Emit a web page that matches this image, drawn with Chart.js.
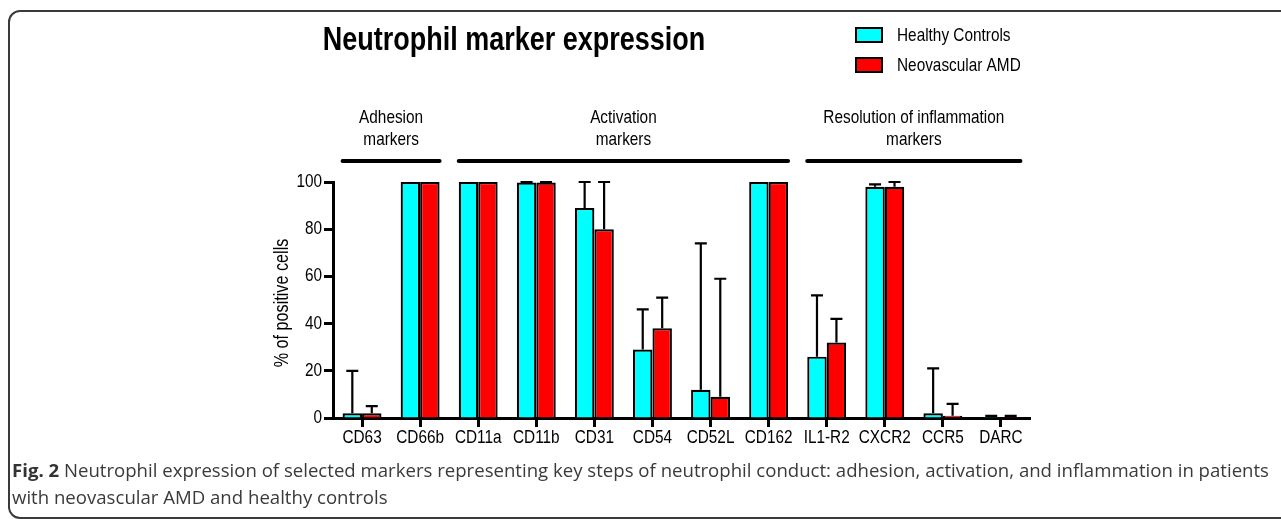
<!DOCTYPE html>
<html>
<head>
<meta charset="utf-8">
<script src="https://cdn.jsdelivr.net/npm/chart.js@4/dist/chart.umd.min.js"></script>
<style>
  body { margin: 0; background: #fff; width: 1281px; height: 519px; overflow: hidden; position: relative; }
  #frame { position: absolute; left: 8px; top: 10px; width: 1400px; height: 509px; border: 2px solid #3a3a3a; border-radius: 12px 0 0 12px; box-sizing: border-box; }
  canvas { position: absolute; left: 0; top: 0; }
  #caption { position: absolute; left: 12px; top: 456px; font-family: "Open Sans", sans-serif; font-size: 18.6px; line-height: 27px; color: #3a3a3a; white-space: nowrap; }
  #caption b { color: #333; }
</style>
</head>
<body>
<div id="frame"></div>
<canvas id="grafico" width="1281" height="519"></canvas>
<div id="caption"><b>Fig. 2</b> Neutrophil expression of selected markers representing key steps of neutrophil conduct: adhesion, activation, and inflammation in patients<br>with neovascular AMD and healthy controls</div>
<script>
const marcadores = ['CD63', 'CD66b', 'CD11a', 'CD11b', 'CD31', 'CD54', 'CD52L', 'CD162', 'IL1-R2', 'CXCR2', 'CCR5', 'DARC']
const controles = [2, 100, 100, 99.8, 89, 29, 12, 100, 26, 98, 2, 0.4]
const controlesErro = [20, 100, 100, 100, 100, 46, 74, 100, 52, 99, 21, 0.9]
const amd = [2, 100, 100, 99.8, 80, 38, 9, 100, 32, 98, 1, 0.4]
const amdErro = [5, 100, 100, 100, 100, 51, 59, 100, 42, 100, 6, 0.9]
const ticksY = [0, 20, 40, 60, 80, 100]

const grupos = [['Adhesion', 'markers'], ['Activation', 'markers'], ['Resolution of inflammation', 'markers']]
const grupoInicio = [0, 2, 8]
const grupoFim = [1, 7, 11]

const fonte = "'Liberation Sans', Arial, sans-serif"
Chart.defaults.font.family = fonte

// texto estreito (tipo Arial Narrow)
function textoEstreito(ctx, txt, x, y, tam, negrito, alinha) {
  ctx.save()
  ctx.font = (negrito ? 'bold ' : '') + tam + 'px ' + fonte
  ctx.textAlign = alinha || 'center'
  ctx.textBaseline = 'middle'
  ctx.translate(x, y)
  ctx.scale(0.83, 1)
  ctx.fillText(txt, 0, 0)
  ctx.restore()
}

// barras de erro (só a parte de cima) + titulo, legenda, grupos e rotulos
const extras = {
  id: 'extras',
  afterDatasetsDraw(chart) {
    const ctx = chart.ctx
    const y = chart.scales.y
    const x = chart.scales.x
    ctx.save()
    ctx.strokeStyle = '#000'
    ctx.fillStyle = '#000'
    ctx.lineWidth = 2.2
    chart.data.datasets.forEach((ds, i) => {
      const meta = chart.getDatasetMeta(i)
      meta.data.forEach((bar, j) => {
        const topo = ds.erros[j]
        if (topo <= ds.data[j]) return
        const yv = y.getPixelForValue(ds.data[j])
        const ye = y.getPixelForValue(topo)
        ctx.beginPath()
        ctx.moveTo(bar.x, yv)
        ctx.lineTo(bar.x, ye)
        ctx.moveTo(bar.x - 6, ye)
        ctx.lineTo(bar.x + 6, ye)
        ctx.stroke()
      })
    })

    // rotulos dos eixos
    marcadores.forEach((m, i) => textoEstreito(ctx, m, x.getPixelForTick(i), 438, 18.5))
    ticksY.forEach(v => textoEstreito(ctx, String(v), 322, y.getPixelForValue(v), 18.5, false, 'right'))

    // grupos
    ctx.lineWidth = 4
    ctx.lineCap = 'round'
    const passo = x.getPixelForValue(1) - x.getPixelForValue(0)
    grupos.forEach((g, k) => {
      const x1 = x.getPixelForValue(grupoInicio[k]) - passo * 0.335
      const x2 = x.getPixelForValue(grupoFim[k]) + passo * 0.335
      ctx.beginPath()
      ctx.moveTo(x1, 161)
      ctx.lineTo(x2, 161)
      ctx.stroke()
      textoEstreito(ctx, g[0], (x1 + x2) / 2, 118, 18.5)
      textoEstreito(ctx, g[1], (x1 + x2) / 2, 140, 18.5)
    })

    // titulo do eixo y
    ctx.save()
    ctx.translate(283, 303)
    ctx.rotate(-Math.PI / 2)
    textoEstreito(ctx, '% of positive cells', 0, 0, 19.5)
    ctx.restore()

    // titulo
    textoEstreito(ctx, 'Neutrophil marker expression', 514, 41, 32.5, true)

    // legenda
    ctx.lineWidth = 2
    chart.data.datasets.forEach((ds, i) => {
      const yy = 28 + i * 30
      ctx.fillStyle = ds.backgroundColor
      ctx.fillRect(856, yy, 26, 14)
      ctx.strokeRect(856, yy, 26, 14)
      ctx.fillStyle = '#000'
      textoEstreito(ctx, ds.label, 897, yy + 8, 18.5, false, 'left')
    })
    ctx.restore()
  }
}

new Chart(document.getElementById('grafico').getContext('2d'), {
  type: 'bar',
  data: {
    labels: marcadores,
    datasets: [
      { label: 'Healthy Controls', data: controles, erros: controlesErro, backgroundColor: '#00FFFF', borderColor: '#000', borderWidth: 2.2 },
      { label: 'Neovascular AMD', data: amd, erros: amdErro, backgroundColor: '#FF0000', borderColor: '#000', borderWidth: 2.2 }
    ]
  },
  options: {
    responsive: false,
    animation: false,
    categoryPercentage: 0.67,
    barPercentage: 1,
    layout: { padding: { top: 182, right: 251, left: 0, bottom: 0 } },
    plugins: { legend: { display: false }, title: { display: false }, tooltip: { enabled: false } },
    scales: {
      x: {
        grid: { display: true, drawOnChartArea: false, drawTicks: true, tickLength: 9, tickWidth: 3, tickColor: '#000', offset: false },
        border: { display: true, color: '#000', width: 3 },
        ticks: { display: false, autoSkip: false },
        afterFit: (s) => { s.height = 101 }
      },
      y: {
        min: 0,
        max: 100,
        afterBuildTicks: (s) => { s.ticks = ticksY.map(v => ({ value: v })) },
        grid: { display: true, drawOnChartArea: false, drawTicks: true, tickLength: 9, tickWidth: 3, tickColor: '#000' },
        border: { display: true, color: '#000', width: 3 },
        ticks: { display: false },
        afterFit: (s) => { s.width = 333 }
      }
    }
  },
  plugins: [extras]
})
</script>
</body>
</html>
